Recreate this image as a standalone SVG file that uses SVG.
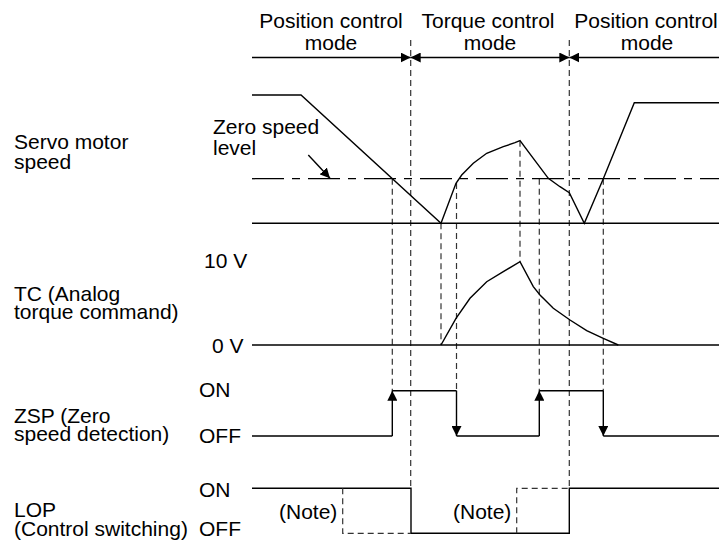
<svg xmlns="http://www.w3.org/2000/svg" width="719" height="544" viewBox="0 0 719 544">
<style>
.t{font-family:"Liberation Sans",Arial,sans-serif;font-size:21px;fill:#000}
.m{text-anchor:middle}
.s{stroke:#000;stroke-width:1.4;fill:none}
.d{stroke:#333;stroke-width:1.2;stroke-dasharray:6 4;fill:none}
.z{stroke:#000;stroke-width:1.3;stroke-dasharray:32 8 8 8;fill:none}
.ah{fill:#000}
</style>
<defs>
<marker id="arr" markerUnits="userSpaceOnUse" markerWidth="10" markerHeight="10" refX="10" refY="5" orient="auto-start-reverse" viewBox="0 0 10 10">
<path d="M0,0 L10,5 L0,10 z" fill="#000"/>
</marker>
</defs>
<rect width="719" height="544" fill="#fff"/>

<g id="modes">
<text class="t m" x="331" y="28">Position control</text>
<text class="t m" x="331" y="50">mode</text>
<text class="t m" x="488" y="28">Torque control</text>
<text class="t m" x="490" y="50">mode</text>
<text class="t m" x="646" y="28">Position control</text>
<text class="t m" x="647" y="50">mode</text>
</g>

<g id="labels">
<text class="t" x="14" y="149">Servo motor</text>
<text class="t" x="14" y="169">speed</text>
<text class="t" x="213" y="134">Zero speed</text>
<text class="t" x="213" y="155">level</text>
<text class="t" x="204" y="268">10 V</text>
<text class="t" x="14" y="301">TC (Analog</text>
<text class="t" x="14" y="319">torque command)</text>
<text class="t" x="212" y="353">0 V</text>
<text class="t" x="199" y="397">ON</text>
<text class="t" x="14" y="423">ZSP (Zero</text>
<text class="t" x="14" y="441">speed detection)</text>
<text class="t" x="199" y="443">OFF</text>
<text class="t" x="199" y="497">ON</text>
<text class="t" x="14" y="517">LOP</text>
<text class="t" x="14" y="536">(Control switching)</text>
<text class="t" x="199" y="536">OFF</text>
<text class="t" x="279" y="519">(Note)</text>
<text class="t" x="453" y="519">(Note)</text>
</g>

<g id="connectors">
<path class="s" d="M252 57.5 H410.7" marker-end="url(#arr)"/>
<path class="s" d="M410.7 57.5 H569.3" marker-start="url(#arr)" marker-end="url(#arr)"/>
<path class="s" d="M719 57.5 H569.3" marker-end="url(#arr)"/>
<path class="s" d="M308.3 155 L330 178.3" marker-end="url(#arr)"/>
<path class="d" d="M410.7 40 V488 M569.3 40 V488 M392.3 178.7 V391 M441 223.3 V345 M456.5 183 V391 M520 140.7 V261.7 M539.3 178.7 V391 M603.3 178.7 V391"/>
</g>

<g id="servo-speed">
<path class="s" d="M252 223.3 H719"/>
<path class="z" d="M252 178.7 H719"/>
<polyline class="s" points="252,95 301,95 441,223.3 456,183.3 461.7,175 473.3,163.3 486.7,153.3 503.3,146.7 515,142.7 520,140.7 533.3,158.3 548.3,178.3 560,186.7 569.3,192.7 584.3,223.3 603.3,178.7 634.3,102.7 719,102.7"/>
</g>

<g id="tc">
<path class="s" d="M252 345 H719"/>
<polyline class="s" points="441,345 456,318.3 470,298.3 486.7,281.7 503.3,271.7 520,261.7 533.3,286.7 540,295 553.3,308.3 570,320 586.7,330.7 603.3,338.3 618.3,345"/>
</g>

<g id="zsp">
<path class="s" d="M252 436 H392.3 M392.3 390.7 H456.5 M456.5 436 H539.3 M539.3 390.7 H603.3 M603.3 436 H719"/>
<path class="s" d="M392.3 436 V390.7" marker-end="url(#arr)"/>
<path class="s" d="M456.5 390.7 V436" marker-end="url(#arr)"/>
<path class="s" d="M539.3 436 V390.7" marker-end="url(#arr)"/>
<path class="s" d="M603.3 390.7 V436" marker-end="url(#arr)"/>
</g>

<g id="lop">
<path class="s" d="M252 488.3 H411 V533.3 H569.3 V488.3 H719"/>
<path class="d" d="M342.7 488.3 V533.3 H411 M516.7 533.3 V488.3 H569.3"/>
</g>
</svg>
